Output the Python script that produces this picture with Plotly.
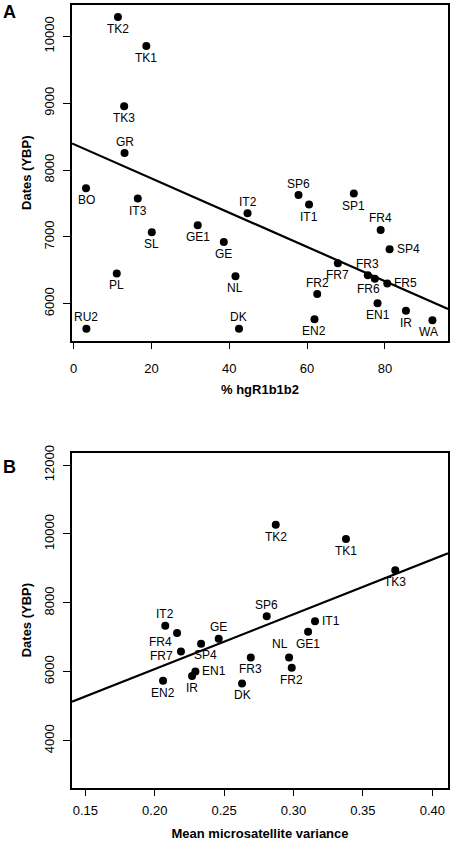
import plotly.graph_objects as go

# ---------------- Panel A data ----------------
names_a = ["TK2", "TK1", "TK3", "GR", "BO", "IT3", "IT2", "IT1", "SP6", "SP1",
           "GE1", "SL", "GE", "FR4", "SP4", "FR7", "FR3", "FR6", "FR5", "PL",
           "NL", "FR2", "EN2", "EN1", "IR", "WA", "RU2", "DK"]
hg_a = [11.4, 18.7, 13.0, 13.1, 3.2, 16.5, 44.7, 60.5, 57.8, 72.0,
        31.9, 20.1, 38.6, 78.9, 81.2, 67.9, 75.6, 77.4, 80.6, 11.1,
        41.6, 62.6, 61.9, 78.1, 85.4, 92.2, 3.3, 42.5]
dates_a = [10290, 9857, 8955, 8254, 7727, 7573, 7354, 7484, 7627, 7648,
           7175, 7070, 6925, 7104, 6816, 6607, 6428, 6373, 6304, 6454,
           6413, 6145, 5767, 6006, 5896, 5752, 5627, 5627]
# label placement codes (style): b=below, t=above, r=right, plus special cases
pos_a = ["b", "b", "b", "t", "b", "b", "t", "b", "t", "b",
         "b", "b", "b", "t", "r", "b", "t", "bl", "r", "b",
         "b", "t", "b", "b", "b", "bw", "t", "t"]
# regression line shown in panel A (intercept, slope)
fit_a = [8389, -25.65]

# ---------------- Panel B data ----------------
names_b = ["TK2", "TK1", "TK3", "SP6", "IT1", "IT2", "FR4", "GE1", "GE", "SP4",
           "FR7", "FR3", "NL", "FR2", "EN1", "IR", "EN2", "DK"]
var_b = [0.2872, 0.3378, 0.3733, 0.2807, 0.3155, 0.2076, 0.2161, 0.3105, 0.2461, 0.2334,
         0.2189, 0.2692, 0.2968, 0.2987, 0.2293, 0.2269, 0.2060, 0.2629]
dates_b = [10270, 9855, 8948, 7614, 7470, 7333, 7122, 7159, 6957, 6812,
           6590, 6416, 6416, 6116, 6009, 5875, 5739, 5661]
pos_b = ["b", "b", "b", "t", "r", "t", "blf", "b", "t", "br",
         "l", "b", "tl", "b", "r", "b", "b", "b"]
# regression line shown in panel B (intercept, slope)
fit_b = [2896, 15910]

xticks_a = [0, 20, 40, 60, 80]
yticks_a = [6000, 7000, 8000, 9000, 10000]
xticks_b = [0.15, 0.20, 0.25, 0.30, 0.35, 0.40]
yticks_b = [4000, 6000, 8000, 10000, 12000]
xticklabels_a = ["0", "20", "40", "60", "80"]
yticklabels_a = ["6000", "7000", "8000", "9000", "10000"]
xticklabels_b = ["0.15", "0.20", "0.25", "0.30", "0.35", "0.40"]
yticklabels_b = ["4000", "6000", "8000", "10000", "12000"]

xrange_a = [-0.4, 96.2]
yrange_a = [5450, 10470]
xrange_b = [0.1404, 0.4113]
yrange_b = [2640, 12360]

FONT = "Liberation Sans, Arial, Helvetica, sans-serif"

# label offset styles: (xanchor, xshift, yshift)
LABEL_STYLE = {
    "b": ("center", 0, -12),
    "t": ("center", 0, 11.5),
    "r": ("left", 5, 0),
    "l": ("right", -6, -4.5),
    "bl": ("center", -6, -10.5),
    "bw": ("center", -4, -12),
    "blf": ("right", -3, -8.5),
    "br": ("center", 4.5, -11.5),
    "tl": ("right", 0.5, 13),
}

fig = go.Figure()

fig.add_trace(go.Scatter(x=xrange_a, y=[fit_a[0] + fit_a[1] * v for v in xrange_a], mode="lines",
                         line=dict(color="black", width=2.2), xaxis="x", yaxis="y",
                         hoverinfo="skip", showlegend=False))
fig.add_trace(go.Scatter(x=hg_a, y=dates_a, text=names_a, mode="markers",
                         marker=dict(color="black", size=8),
                         xaxis="x", yaxis="y", showlegend=False, cliponaxis=False))

fig.add_trace(go.Scatter(x=xrange_b, y=[fit_b[0] + fit_b[1] * v for v in xrange_b], mode="lines",
                         line=dict(color="black", width=2.2), xaxis="x2", yaxis="y2",
                         hoverinfo="skip", showlegend=False))
fig.add_trace(go.Scatter(x=var_b, y=dates_b, text=names_b, mode="markers",
                         marker=dict(color="black", size=8),
                         xaxis="x2", yaxis="y2", showlegend=False, cliponaxis=False))


def label_annotations(names, xs, ys, codes, xref, yref):
    out = []
    for n, x, y, c in zip(names, xs, ys, codes):
        xa, dx, dy = LABEL_STYLE[c]
        out.append(dict(text=n, x=x, y=y, xref=xref, yref=yref, showarrow=False,
                        xanchor=xa, yanchor="middle", xshift=dx, yshift=dy,
                        font=dict(family=FONT, size=12, color="black")))
    return out


W, H = 451, 841
xdom = [72 / W, 448 / W]
ydom_a = [(H - 340.5) / H, (H - 5) / H]
ydom_b = [(H - 787.5) / H, (H - 452.7) / H]

axis_common = dict(showline=True, linecolor="black", linewidth=1.5, mirror=True,
                   ticks="outside", ticklen=7, tickwidth=1.3, tickcolor="black",
                   showgrid=False, zeroline=False, automargin=False,
                   tickfont=dict(family=FONT, size=13, color="black"))
title_font = dict(family=FONT, size=13, color="black")

annotations = (label_annotations(names_a, hg_a, dates_a, pos_a, "x", "y")
               + label_annotations(names_b, var_b, dates_b, pos_b, "x2", "y2"))
annotations += [
    dict(text="<b>A</b>", x=9 / W, y=(H - 12) / H, xref="paper", yref="paper",
         showarrow=False, xanchor="center", yanchor="middle",
         font=dict(family=FONT, size=18, color="black")),
    dict(text="<b>B</b>", x=9 / W, y=(H - 467) / H, xref="paper", yref="paper",
         showarrow=False, xanchor="center", yanchor="middle",
         font=dict(family=FONT, size=18, color="black")),
]

fig.update_layout(
    width=W, height=H,
    margin=dict(l=0, r=0, t=0, b=0, autoexpand=False),
    paper_bgcolor="white", plot_bgcolor="white",
    font=dict(family=FONT, color="black"),
    hovermode=False,
    xaxis=dict(domain=xdom, range=xrange_a, tickvals=xticks_a, ticktext=xticklabels_a,
               anchor="y",
               title=dict(text="<b>% hgR1b1b2</b>", font=title_font, standoff=10),
               ticklabelstandoff=8, **axis_common),
    yaxis=dict(domain=ydom_a, range=yrange_a, tickvals=yticks_a, ticktext=yticklabels_a,
               anchor="x", tickangle=-90,
               title=dict(text="<b>Dates (YBP)</b>", font=title_font, standoff=7),
               ticklabelstandoff=4, **axis_common),
    xaxis2=dict(domain=xdom, range=xrange_b, tickvals=xticks_b, ticktext=xticklabels_b,
                anchor="y2",
                title=dict(text="<b>Mean microsatellite variance</b>", font=title_font, standoff=16),
                ticklabelstandoff=3, **axis_common),
    yaxis2=dict(domain=ydom_b, range=yrange_b, tickvals=yticks_b, ticktext=yticklabels_b,
                anchor="x2", tickangle=-90,
                title=dict(text="<b>Dates (YBP)</b>", font=title_font, standoff=7),
                ticklabelstandoff=4, **axis_common),
    annotations=annotations,
)

fig.write_html("out.html", config={"displayModeBar": False},
               post_script="document.body.style.margin='0px';document.body.style.overflow='hidden';")
